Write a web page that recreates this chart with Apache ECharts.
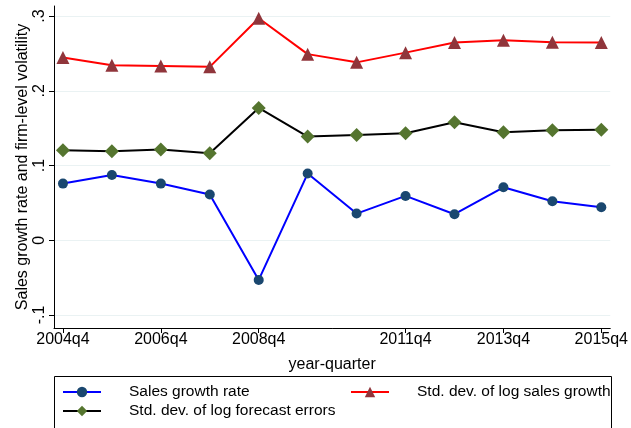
<!DOCTYPE html>
<html>
<head>
<meta charset="utf-8">
<script src="https://cdn.jsdelivr.net/npm/echarts@6/dist/echarts.min.js"></script>
<style>
  html, body { margin: 0; padding: 0; background: #fff; }
  #chart { width: 631px; height: 428px; }
</style>
</head>
<body>
<div id="chart"></div>
<script>
// Annual observations (fourth quarter of each year)
const quarters = ['2004q4','2005q4','2006q4','2007q4','2008q4','2009q4',
                  '2010q4','2011q4','2012q4','2013q4','2014q4','2015q4'];
const salesGrowth   = [0.0758, 0.0874, 0.0758, 0.0611, -0.0531, 0.0892,
                       0.0357, 0.0593, 0.0348, 0.0709, 0.0522, 0.0441];
const sdSalesGrowth = [0.2444, 0.2340, 0.2330, 0.2320, 0.2970, 0.2490,
                       0.2380, 0.2510, 0.2645, 0.2676, 0.2650, 0.2645];
const sdForecastErr = [0.1204, 0.1190, 0.1213, 0.1164, 0.1770, 0.1387,
                       0.1409, 0.1431, 0.1579, 0.1445, 0.1472, 0.1480];
const xTickLabels = ['2004q4','2006q4','2008q4','2011q4','2013q4','2015q4'];
const yTickValues = [-0.1, 0, 0.1, 0.2, 0.3];

const FONT = '"Liberation Sans", Arial, sans-serif';
const FS = 16;
const toPairs = vals => vals.map((v, i) => [i, v]);
const xTicks = xTickLabels.map(l => quarters.indexOf(l));
const fmtY = v => {
  const s = (Math.round(v * 10) / 10).toString();
  return s.replace(/^(-?)0\./, '$1.');
};

const legendText = { color: '#000', fontSize: 15.5, fontFamily: FONT, padding: [0, 0, 0, 23] };

const chart = echarts.init(document.getElementById('chart'), null, { renderer: 'canvas' });

chart.setOption({
  animation: false,
  backgroundColor: '#fff',
  textStyle: { fontFamily: FONT },
  grid: { left: 54, right: 19, top: 6, bottom: 100, containLabel: false },
  xAxis: {
    type: 'value',
    min: -0.183, max: 11.183,
    name: 'year-quarter',
    nameLocation: 'middle',
    nameGap: 29,
    nameTextStyle: { color: '#000', fontSize: FS, fontFamily: FONT },
    axisLine: { show: true, onZero: false, lineStyle: { color: '#000', width: 1 } },
    axisTick: { show: true, length: 5, customValues: xTicks, lineStyle: { color: '#000' } },
    axisLabel: {
      customValues: xTicks,
      color: '#000', fontSize: FS, fontFamily: FONT, margin: 4,
      formatter: v => quarters[Math.round(v)]
    },
    splitLine: { show: false }
  },
  yAxis: {
    type: 'value',
    min: -0.1174, max: 0.3134,
    name: 'Sales growth rate and firm-level volatility',
    nameLocation: 'middle',
    nameRotate: 90,
    nameGap: 23,
    nameMoveOverlap: false,
    nameTextStyle: { color: '#000', fontSize: FS, fontFamily: FONT },
    axisLine: { show: true, onZero: false, lineStyle: { color: '#000', width: 1 } },
    axisTick: { show: true, length: 5, customValues: yTickValues, lineStyle: { color: '#000' } },
    axisLabel: {
      customValues: yTickValues,
      rotate: 90, color: '#000', fontSize: FS, fontFamily: FONT, margin: 6,
      formatter: fmtY
    },
    splitLine: { show: true, lineStyle: { color: '#eaf2f3', width: 1 } }
  },
  legend: [
    {
      left: 57, top: 379, orient: 'vertical', itemGap: 3,
      itemWidth: 38, itemHeight: 13,
      textStyle: legendText,
      data: ['Sales growth rate', 'Std. dev. of log forecast errors']
    },
    {
      left: 345, top: 379, orient: 'vertical',
      itemWidth: 38, itemHeight: 13,
      textStyle: legendText,
      data: ['Std. dev. of log sales growth']
    }
  ],
  graphic: [
    {
      type: 'rect', silent: true,
      shape: { x: 54.5, y: 376.5, width: 557, height: 70 },
      style: { fill: 'none', stroke: '#000', lineWidth: 1 }
    }
  ],
  series: [
    {
      name: 'Sales growth rate', type: 'line',
      data: toPairs(salesGrowth),
      symbol: 'circle', symbolSize: 10,
      lineStyle: { color: '#0000ff', width: 2 },
      itemStyle: { color: '#1a476f' }
    },
    {
      name: 'Std. dev. of log sales growth', type: 'line',
      data: toPairs(sdSalesGrowth),
      symbol: 'triangle', symbolSize: 13,
      lineStyle: { color: '#ff0000', width: 2 },
      itemStyle: { color: '#90353b' }
    },
    {
      name: 'Std. dev. of log forecast errors', type: 'line',
      data: toPairs(sdForecastErr),
      symbol: 'diamond', symbolSize: 14,
      lineStyle: { color: '#000000', width: 2 },
      itemStyle: { color: '#55752f' }
    }
  ]
});
</script>
</body>
</html>
